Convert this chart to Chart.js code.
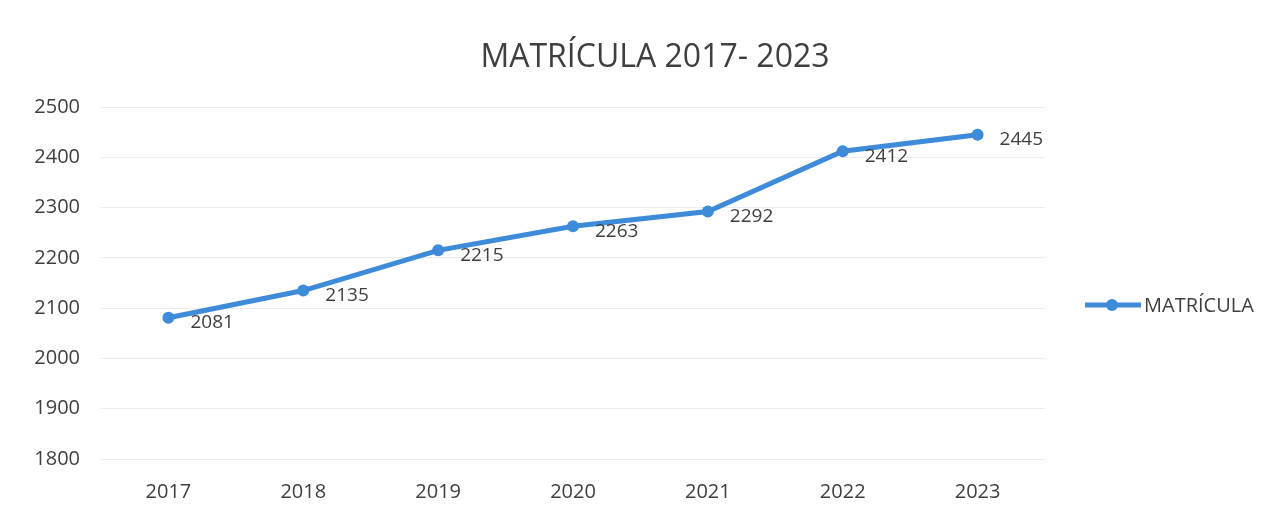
<!DOCTYPE html>
<html lang="es">
<head>
<meta charset="utf-8">
<title>Matrícula 2017- 2023</title>
<script src="https://cdn.jsdelivr.net/npm/chart.js@4.4.1/dist/chart.umd.min.js"></script>
<style>
    html, body { margin: 0; padding: 0; background: #ffffff; }
    #wrap { width: 1288px; height: 517px; position: relative; }
</style>
</head>
<body>
<div id="wrap"><canvas id="matriculaChart" width="1288" height="517"></canvas></div>
<script>
const years = ['2017', '2018', '2019', '2020', '2021', '2022', '2023'];
const matricula = [2081, 2135, 2215, 2263, 2292, 2412, 2445];
const yTicks = [1800, 1900, 2000, 2100, 2200, 2300, 2400, 2500];

const chartTitle = 'MATRÍCULA 2017- 2023';
const seriesName = 'MATRÍCULA';
const lineColor = '#3d8bd9';
const textColor = '#3f3f3f';
const fontFamily = "'Open Sans', 'Noto Sans', sans-serif";

// titulo, leyenda y etiquetas de datos dibujados a mano
const extrasPlugin = {
    id: 'extras',
    afterDraw(chart) {
        const ctx = chart.ctx;
        ctx.save();

        ctx.fillStyle = textColor;
        ctx.font = `32px ${fontFamily}`;
        ctx.textAlign = 'center';
        ctx.textBaseline = 'middle';
        ctx.fillText(chartTitle, 655, 58);

        // etiquetas con el valor de cada punto
        const meta = chart.getDatasetMeta(0);
        const values = chart.data.datasets[0].data;
        ctx.font = `19px ${fontFamily}`;
        ctx.textAlign = 'left';
        meta.data.forEach((pt, i) => {
            ctx.fillText(String(values[i]), pt.x + 22, pt.y + 5);
        });

        // leyenda a la derecha
        const ly = 305;
        ctx.strokeStyle = lineColor;
        ctx.lineWidth = 5;
        ctx.beginPath();
        ctx.moveTo(1085, ly);
        ctx.lineTo(1141, ly);
        ctx.stroke();
        ctx.fillStyle = lineColor;
        ctx.beginPath();
        ctx.arc(1112, ly, 6, 0, Math.PI * 2);
        ctx.fill();
        ctx.fillStyle = textColor;
        ctx.font = `20px ${fontFamily}`;
        ctx.fillText(chart.data.datasets[0].label, 1144, ly + 1);

        ctx.restore();
    }
};

const ctx = document.getElementById('matriculaChart').getContext('2d');
const myChart = new Chart(ctx, {
    type: 'line',
    data: {
        labels: years,
        datasets: [{
            label: seriesName,
            data: matricula,
            borderColor: lineColor,
            backgroundColor: lineColor,
            borderWidth: 5,
            pointRadius: 6,
            pointBorderWidth: 0,
            pointBackgroundColor: lineColor,
            tension: 0
        }]
    },
    options: {
        responsive: false,
        animation: false,
        layout: {
            padding: { left: 20, right: 243, top: 107, bottom: 0 }
        },
        plugins: {
            legend: { display: false },
            title: { display: false },
            tooltip: { enabled: false }
        },
        scales: {
            x: {
                offset: true,
                grid: { display: false, drawTicks: false },
                border: { display: false },
                ticks: {
                    color: textColor,
                    padding: 21,
                    font: { family: fontFamily, size: 20 }
                },
                afterFit(scale) { scale.height = 58; }
            },
            y: {
                min: yTicks[0],
                max: yTicks[yTicks.length - 1],
                afterBuildTicks(scale) {
                    scale.ticks = yTicks.map(v => ({ value: v }));
                },
                grid: { color: '#ececec', lineWidth: 1, drawTicks: false },
                border: { display: false },
                ticks: {
                    color: textColor,
                    padding: 21,
                    font: { family: fontFamily, size: 20 },
                    callback: (value) => String(value)
                },
                afterFit(scale) { scale.width = 81; }
            }
        }
    },
    plugins: [extrasPlugin]
});
</script>
</body>
</html>
